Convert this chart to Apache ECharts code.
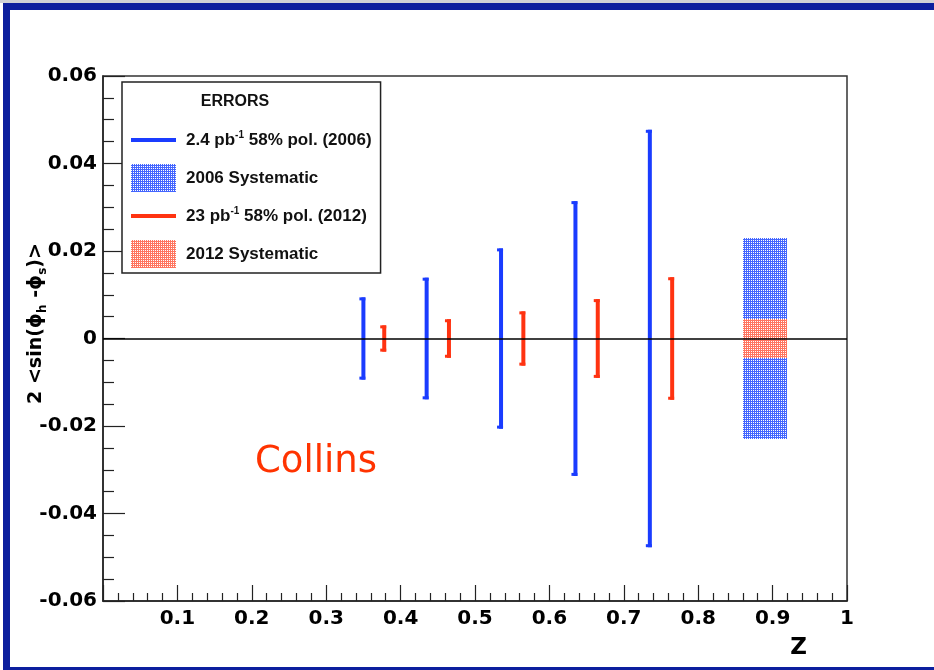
<!DOCTYPE html>
<html><head><meta charset="utf-8">
<script src="https://cdn.jsdelivr.net/npm/echarts@6/dist/echarts.min.js"></script>
<style>html,body{margin:0;padding:0;background:#fff}#chart{width:934px;height:670px}</style>
</head><body><div id="chart"></div>
<script>
// ---- data ----
const blueZ   = [0.350, 0.435, 0.535, 0.635, 0.735];
const blueVal = [0, 0, 0, 0, 0];
const blueErr = [0.0094, 0.0139, 0.0206, 0.0314, 0.0477];
const redZ    = [0.378, 0.465, 0.565, 0.665, 0.765];
const redVal  = [0, 0, 0, 0, 0];
const redErr  = [0.0030, 0.0044, 0.0062, 0.0090, 0.0140];
const sysZRange = [0.86, 0.92];
const blueSys = 0.0230;
const redSys  = 0.0045;
const seriesNames = ['2.4 pb-1 58% pol. (2006)', '2006 Systematic', '23 pb-1 58% pol. (2012)', '2012 Systematic'];
const xRange = [0, 1];
const yRange = [-0.06, 0.06];

const BLUE = '#1a3cff', RED = '#ff3311';
const BLUE_DOT = '#4466ff', RED_DOT = '#ff7560';
function tile(g, w, h, color){
  g.fillStyle = '#ffffff'; g.fillRect(0, 0, w, h);
  g.fillStyle = color;
  for (let y = 0; y < h; y++) for (let x = 0; x < w; x++) {
    if (!((x % 2 === 0) && (y % 2 === 0))) g.fillRect(x, y, 1, 1);
  }
}
function makePattern(color){
  const c = document.createElement('canvas'); c.width = 2; c.height = 2;
  tile(c.getContext('2d'), 2, 2, color);
  return {image: c, repeat: 'repeat'};
}
function makeBoxCanvas(w, h, color){
  const c = document.createElement('canvas');
  c.width = Math.max(1, Math.round(w)); c.height = Math.max(1, Math.round(h));
  tile(c.getContext('2d'), c.width, c.height, color);
  return c;
}
const bluePat = makePattern(BLUE_DOT);
const redPat = makePattern(RED_DOT);

function errRender(color){
  return function(params, api){
    const z = api.value(0), v = api.value(1), e = api.value(2);
    const top = api.coord([z, v + e]);
    const bot = api.coord([z, v - e]);
    const cx = top[0];
    return {type:'group', children:[
      {type:'rect', shape:{x:cx-2, y:top[1], width:4, height:bot[1]-top[1]}, style:{fill:color}},
      {type:'rect', shape:{x:cx-4, y:top[1], width:6, height:3}, style:{fill:color}},
      {type:'rect', shape:{x:cx-4, y:bot[1]-3, width:6, height:3}, style:{fill:color}}
    ]};
  };
}
function boxRender(color){
  return function(params, api){
    const p0 = api.coord([api.value(0), api.value(2)]);
    const p1 = api.coord([api.value(1), -api.value(2)]);
    const x = Math.round(p0[0]), y = Math.round(p0[1]);
    const w = Math.round(p1[0]) - x, h = Math.round(p1[1]) - y;
    return {type:'image', style:{image: makeBoxCanvas(w, h, color), x: x, y: y, width: w, height: h}};
  };
}

const chart = echarts.init(document.getElementById('chart'), null, {renderer:'canvas'});
const FONT = 'DejaVu Sans';
const LFONT = 'Liberation Sans';
const lineIcon = 'path://M0,0M45,28M0,12L45,12L45,16L0,16Z';

chart.setOption({
  animation: false,
  backgroundColor: '#ffffff',
  grid: {left: 103, right: 87, top: 76, bottom: 69, show: true, borderColor: '#333', borderWidth: 1.5,
         backgroundColor: 'transparent', outerBoundsMode: 'none', containLabel: false},
  xAxis: {
    type: 'value', min: xRange[0], max: xRange[1], interval: 0.1,
    name: 'Z', nameLocation: 'end', nameGap: 0, nameMoveOverlap: false,
    nameTextStyle: {fontFamily: FONT, fontWeight: 'bold', fontSize: 23, color: '#000', align: 'right', verticalAlign: 'top', padding: [36, 40, 0, 0]},
    axisLine: {show: true, onZero: false, lineStyle: {color: '#222', width: 1.5}},
    axisTick: {show: true, inside: true, length: 16, lineStyle: {color: '#222', width: 1.2}},
    minorTick: {show: true, splitNumber: 5, length: 8, lineStyle: {color: '#222', width: 1.2}},
    splitLine: {show: false},
    axisLabel: {fontFamily: FONT, fontWeight: 'bold', fontSize: 20, color: '#000', margin: 8,
      formatter: v => (Math.abs(v) < 1e-9 ? '' : String(+v.toFixed(1)))}
  },
  yAxis: {
    type: 'value', min: yRange[0], max: yRange[1], interval: 0.02,
    name: '{n|2 <sin(ϕ}{sub|h}{n| -ϕ}{sub|s}{n|)>}',
    nameLocation: 'middle', nameRotate: 90, nameGap: 54, nameMoveOverlap: false,
    nameTextStyle: {padding: [0, 0, 0, 30], rich: {
      n: {fontFamily: FONT, fontWeight: 'bold', fontSize: 19, color: '#000', lineHeight: 26},
      sub: {fontFamily: FONT, fontWeight: 'bold', fontSize: 12, color: '#000', verticalAlign: 'bottom'}
    }},
    axisLine: {show: true, onZero: false, lineStyle: {color: '#222', width: 1.5}},
    axisTick: {show: true, inside: true, length: 22, lineStyle: {color: '#222', width: 1.2}},
    minorTick: {show: true, splitNumber: 4, length: 11, lineStyle: {color: '#222', width: 1.2}},
    splitLine: {show: false},
    axisLabel: {fontFamily: FONT, fontWeight: 'bold', fontSize: 20, color: '#000', margin: 6,
      formatter: v => (Math.abs(v) < 1e-9 ? '0' : v.toFixed(2))}
  },
  legend: {
    left: 122, top: 82, orient: 'vertical', selectedMode: false,
    padding: [44, 9, 5, 9], itemGap: 10, itemWidth: 45, itemHeight: 28,
    borderColor: '#222', borderWidth: 1.5, backgroundColor: '#fff',
    data: [
      {name: seriesNames[0], icon: lineIcon},
      {name: seriesNames[1], icon: 'rect'},
      {name: seriesNames[2], icon: lineIcon},
      {name: seriesNames[3], icon: 'rect'}
    ],
    formatter: function(name){
      const m = name.match(/^(.*pb)-1(.*)$/);
      if (m) return '{t|' + m[1] + '}{sup|-1}{t|' + m[2] + '}';
      return '{t|' + name + '}';
    },
    textStyle: {padding: [0, 0, 0, 5], rich: {
      t: {fontFamily: LFONT, fontWeight: 'bold', fontSize: 17, color: '#111', lineHeight: 20},
      sup: {fontFamily: LFONT, fontWeight: 'bold', fontSize: 10, color: '#111', verticalAlign: 'top'}
    }}
  },
  graphic: [
    {type: 'rect', left: 0, top: 0, shape: {width: 934, height: 3}, style: {fill: '#cfd2d6'}, silent: true},
    {type: 'rect', left: 3, top: 3, shape: {width: 931, height: 7}, style: {fill: '#0c1f9e'}, silent: true},
    {type: 'rect', left: 3, top: 3, shape: {width: 7, height: 667}, style: {fill: '#0c1f9e'}, silent: true},
    {type: 'rect', left: 3, top: 667, shape: {width: 931, height: 3}, style: {fill: '#0c1f9e'}, silent: true},
    {type: 'text', x: 235, y: 102, z: 100, style: {text: 'ERRORS', fontFamily: LFONT, fontWeight: 'bold', fontSize: 16, fill: '#111', align: 'center', verticalAlign: 'middle'}},
    {type: 'text', x: 255, y: 462, z: 100, style: {text: 'Collins', fontFamily: FONT, fontSize: 37, fill: '#ff3300', align: 'left', verticalAlign: 'middle'}}
  ],
  series: [
    {name: seriesNames[0], type: 'custom', renderItem: errRender(BLUE), itemStyle: {color: BLUE},
     encode: {x: 0, y: 1}, data: blueZ.map((z, i) => [z, blueVal[i], blueErr[i]])},
    {name: seriesNames[1], type: 'custom', renderItem: boxRender(BLUE_DOT), itemStyle: {color: bluePat},
     encode: {x: [0, 1], y: 2}, data: [[sysZRange[0], sysZRange[1], blueSys]]},
    {name: seriesNames[2], type: 'custom', renderItem: errRender(RED), itemStyle: {color: RED},
     encode: {x: 0, y: 1}, data: redZ.map((z, i) => [z, redVal[i], redErr[i]])},
    {name: seriesNames[3], type: 'custom', renderItem: boxRender(RED_DOT), itemStyle: {color: redPat},
     encode: {x: [0, 1], y: 2}, data: [[sysZRange[0], sysZRange[1], redSys]],
     markLine: {silent: true, symbol: 'none', z: 5, label: {show: false},
       lineStyle: {color: '#000', width: 1.5, type: 'solid'}, data: [{yAxis: 0}]}}
  ]
});
</script></body></html>
